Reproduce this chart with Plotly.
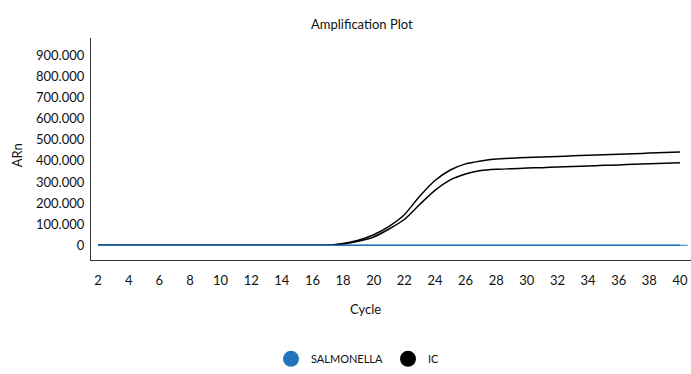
import plotly.graph_objects as go

CYCLES = list(range(2, 41))
# IC replicate curves (upper and lower)
IC_UPPER = [0]*16 + [8000, 24000, 50000, 90000, 145000, 232000, 307000, 357000, 386000,
                     400000, 409000, 413000, 416000, 419000, 421000, 424000, 427000, 429000,
                     432000, 434000, 437000, 440000, 442000]
IC_LOWER = [0]*16 + [6000, 19000, 39000, 77000, 122000, 193000, 260000, 310000, 338000,
                     354000, 360000, 363000, 366000, 368000, 371000, 373000, 376000, 379000,
                     381000, 384000, 386000, 389000, 391000]
SALMONELLA = [0]*39
THRESHOLD = 0
SERIES_NAMES = ["SALMONELLA", "IC"]
Y_TICKS = [0, 100000, 200000, 300000, 400000, 500000, 600000, 700000, 800000, 900000]
X_TICKS = list(range(2, 41, 2))

BLUE = "#2474bb"
BLACK = "#000000"
FONT = "Lato, 'Open Sans', sans-serif"

fig = go.Figure()
fig.add_trace(go.Scatter(x=CYCLES, y=IC_UPPER, mode="lines", line=dict(color=BLACK, width=1.5, shape="spline", smoothing=0.6),
                         showlegend=False, hoverinfo="skip"))
fig.add_trace(go.Scatter(x=CYCLES, y=IC_LOWER, mode="lines", line=dict(color=BLACK, width=1.5, shape="spline", smoothing=0.6),
                         showlegend=False, hoverinfo="skip"))
fig.add_trace(go.Scatter(x=CYCLES, y=SALMONELLA, mode="lines", line=dict(color=BLUE, width=1.5),
                         showlegend=False, hoverinfo="skip"))
# legend entries
fig.add_trace(go.Scatter(x=[None], y=[None], mode="markers", name=SERIES_NAMES[0],
                         marker=dict(color=BLUE, size=18, symbol="circle")))
fig.add_trace(go.Scatter(x=[None], y=[None], mode="markers", name=SERIES_NAMES[1],
                         marker=dict(color=BLACK, size=18, symbol="circle")))

X_MIN, X_MAX = 1.54, 40.72
fig.add_shape(type="line", xref="x", yref="y", x0=CYCLES[0], x1=40.5, y0=THRESHOLD, y1=THRESHOLD,
              line=dict(color=BLUE, width=1.2), layer="below")

fig.update_layout(
    width=691, height=374,
    margin=dict(l=91, r=0, t=38, b=109),
    paper_bgcolor="white", plot_bgcolor="white",
    font=dict(family=FONT, size=13, color="#111111"),
    separators=",.",
    showlegend=True,
    legend=dict(orientation="h", x=0.445, y=-0.445, xanchor="center", yanchor="middle",
                itemsizing="trace", font=dict(size=11, color="#111111"), itemwidth=30,
                tracegroupgap=0),
    xaxis=dict(range=[X_MIN, X_MAX], tickvals=X_TICKS, showgrid=False, zeroline=False,
               showline=True, linecolor="#333333", linewidth=1.2, ticks="",
               ticklabelstandoff=8, tickfont=dict(size=13)),
    yaxis=dict(range=[-70000, 983000], tickvals=Y_TICKS, tickformat=",.0f", showgrid=False,
               zeroline=False, showline=True, linecolor="#333333", linewidth=1.2, ticks="",
               ticklabelstandoff=3, tickfont=dict(size=13)),
    annotations=[
        dict(text="Amplification Plot", xref="paper", yref="paper", x=(362-91)/600, y=1 + (38-24)/227,
             xanchor="center", yanchor="middle", showarrow=False, font=dict(size=13)),
        dict(text="Cycle", xref="paper", yref="paper", x=(365-91)/600, y=(265-315)/227,
             xanchor="center", yanchor="middle", showarrow=False, font=dict(size=13)),
        dict(text="ARn", xref="paper", yref="paper", x=(17-91)/600, y=(265-158)/227,
             xanchor="center", yanchor="middle", showarrow=False, textangle=-90, font=dict(size=13)),
    ],
)

fig.write_html("out.html", config={"displayModeBar": False},
               post_script="document.body.style.margin='0';document.body.style.overflow='hidden';")
